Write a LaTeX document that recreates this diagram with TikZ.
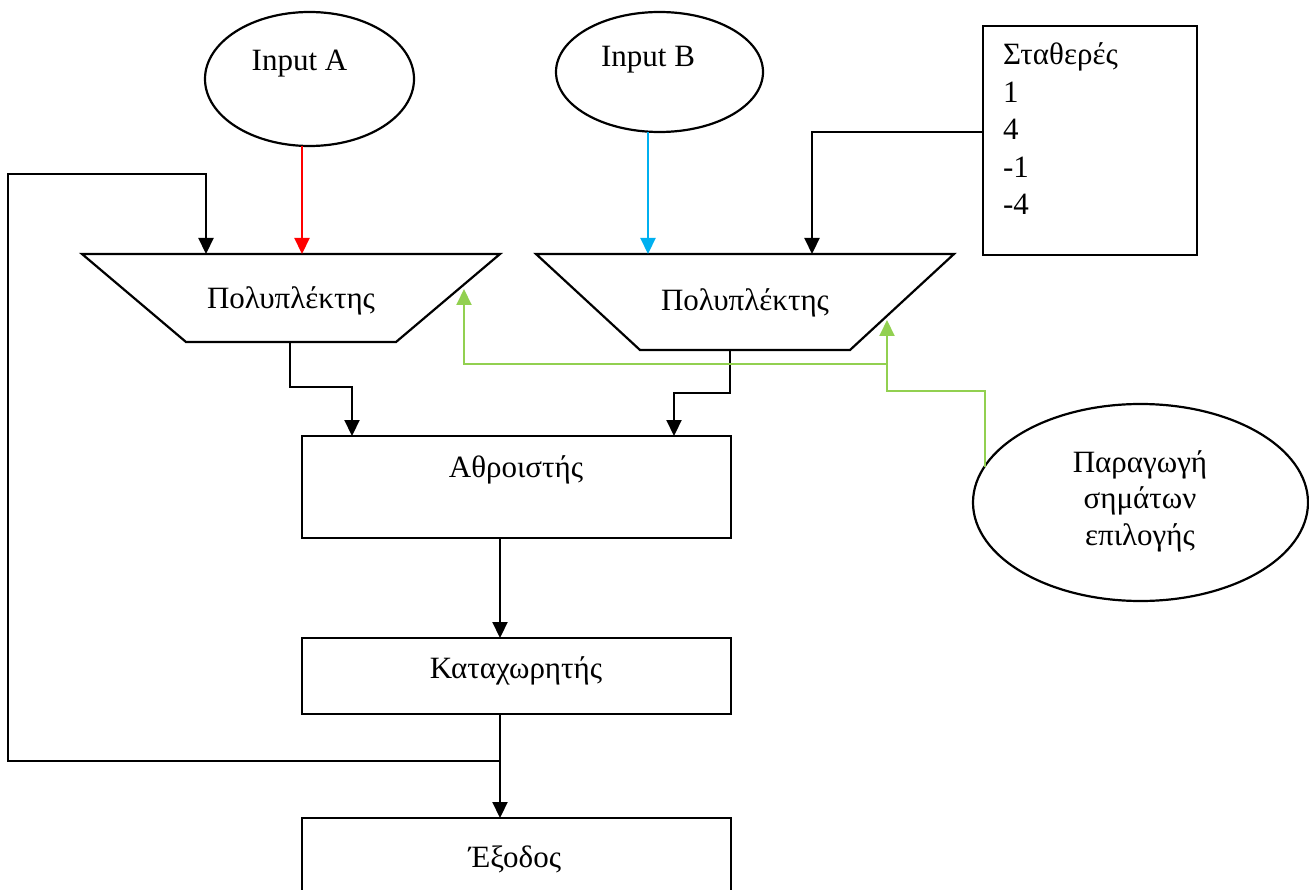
\documentclass[tikz,border=0pt]{standalone}
\usepackage{fontspec}
\setmainfont{Liberation Serif}
\usetikzlibrary{shapes.geometric,arrows.meta}
\definecolor{inred}{HTML}{FF0000}
\definecolor{inblue}{HTML}{00B0F0}
\definecolor{selgreen}{HTML}{92D050}
\begin{document}
\begin{tikzpicture}[x=1pt,y=-1pt,
  every node/.style={inner sep=0pt,outer sep=0pt},
  outline/.style={draw,line width=2.2pt},
  oval/.style={outline,ellipse},
  block/.style={outline,rectangle},
  lbl/.style={font=\fontsize{31}{37}\selectfont,anchor=base},
  lblw/.style={lbl,anchor=base west},
  wire/.style={line width=2.2pt},
  arr/.style={wire,-{Triangle[length=16pt,width=15pt]}},
  selarr/.style={line width=2pt,selgreen,-{Triangle[length=16pt,width=15pt]}}]
\useasboundingbox (0,0) rectangle (1309,890);

% input sources
\node[oval,minimum width=209pt,minimum height=134pt] (ina) at (309.5,79) {};
\node[lbl] (ina-t) at (299.5,71) {Input A};
\node[oval,minimum width=207pt,minimum height=120pt] (inb) at (659.5,72) {};
\node[lbl] (inb-t) at (648,67) {Input B};

% constants box
\node[block,minimum width=214pt,minimum height=229pt] (konst) at (1090,140.5) {};
\node[lblw] (k0) at (1003,65) {Σταθερές};
\node[lblw] (k1) at (1003,103) {1};
\node[lblw] (k2) at (1003,140) {4};
\node[lblw] (k3) at (1003,178) {-1};
\node[lblw] (k4) at (1003,215) {-4};

% multiplexers (inverted trapezoids)
\draw[outline] (82,254) -- (500,254) -- (396,342) -- (186,342) -- cycle;
\coordinate (mux1n) at (291,254);
\coordinate (mux1s) at (291,342);
\node[lbl] (mux1-t) at (291,309) {Πολυπλέκτης};
\draw[outline] (536,254) -- (954,254) -- (850,350) -- (640,350) -- cycle;
\coordinate (mux2n) at (745,254);
\coordinate (mux2s) at (745,350);
\node[lbl] (mux2-t) at (745,311) {Πολυπλέκτης};

% datapath blocks
\node[block,minimum width=429pt,minimum height=102pt] (sum) at (516.5,487) {};
\node[lbl] (sum-t) at (516,477) {Αθροιστής};
\node[block,minimum width=429pt,minimum height=76pt] (reg) at (516.5,676) {};
\node[lbl] (reg-t) at (516,678) {Καταχωρητής};
\node[block,minimum width=429pt,minimum height=104pt] (out) at (516.5,870) {};
\node[lbl] (out-t) at (515,867) {Έξοδος};

% select signal generator
\node[oval,minimum width=335pt,minimum height=197pt] (sel) at (1140.5,502.5) {};
\node[lbl] (sel-t1) at (1140,472) {Παραγωγή};
\node[lbl] (sel-t2) at (1140,508) {σημάτων};
\node[lbl] (sel-t3) at (1140,545) {επιλογής};

% inputs into the multiplexers
\draw[arr,inred] (ina.south -| 302,0) -- (302,0 |- mux1n);
\draw[arr,inblue] (inb.south -| 648,0) -- (648,0 |- mux2n);
\draw[arr] (konst.west |- 0,132) -| (812,0 |- mux2n);

% multiplexer outputs into the adder
\draw[arr] (mux1s -| 290,0) |- (352,387) -- (352,0 |- sum.north);
\draw[arr] (mux2s -| 730,0) |- (674,393) -- (674,0 |- sum.north);

% adder -> register -> output, with feedback
\coordinate (tap) at (500,761);
\draw[arr] (sum.south -| 500,0) -- (500,0 |- reg.north);
\draw[arr] (reg.south -| 500,0) -- (500,0 |- out.north);
\draw[arr] (tap) -| (8,174) -| (206,0 |- mux1n);

% select lines
\coordinate (m1sel) at (464,289);
\coordinate (m2sel) at (887,320);
\coordinate (gsplit) at (887,364);
\draw[selarr] (sel.167) |- (887,391) -- (m2sel);
\draw[selarr] (gsplit) -- (464,364) -- (m1sel);
\end{tikzpicture}
\end{document}
